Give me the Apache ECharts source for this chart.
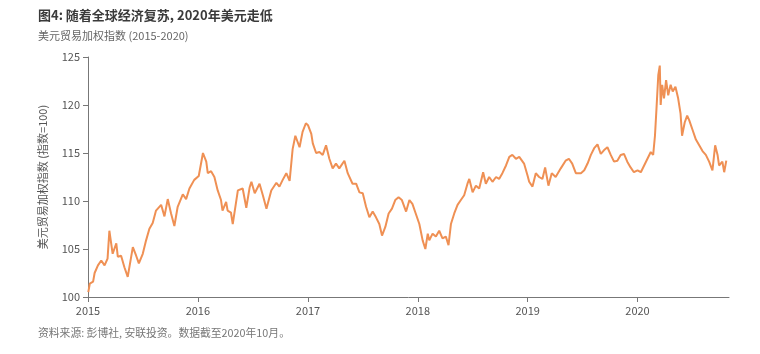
<!DOCTYPE html>
<html>
<head>
<meta charset="utf-8">
<script src="https://cdn.jsdelivr.net/npm/echarts@6/dist/echarts.min.js"></script>
<style>
  html, body { margin: 0; padding: 0; background: #fff; }
  #miGrafica { width: 760px; height: 354px; }
</style>
</head>
<body>
<div id="miGrafica"></div>
<script>
// 美元贸易加权指数, 读图估算

var fechas = [
    '2015-01-02','2015-01-07','2015-01-18','2015-01-23','2015-02-03','2015-02-14','2015-02-25','2015-03-07','2015-03-13','2015-03-24',
    '2015-04-05','2015-04-10','2015-04-21','2015-05-02','2015-05-13','2015-05-30','2015-06-10','2015-06-19','2015-07-02','2015-07-13',
    '2015-07-24','2015-08-04','2015-08-15','2015-09-01','2015-09-12','2015-09-23','2015-10-04','2015-10-15','2015-10-26','2015-11-12',
    '2015-11-23','2015-12-04','2015-12-20','2016-01-04','2016-01-18','2016-01-29','2016-02-03','2016-02-14','2016-02-25','2016-03-07',
    '2016-03-18','2016-03-23','2016-04-04','2016-04-09','2016-04-20','2016-04-26','2016-05-13','2016-05-29','2016-06-10','2016-06-21',
    '2016-06-27','2016-07-08','2016-07-24','2016-08-04','2016-08-16','2016-09-01','2016-09-18','2016-09-28','2016-10-09','2016-10-21',
    '2016-11-01','2016-11-11','2016-11-20','2016-12-04','2016-12-14','2016-12-25','2017-01-01','2017-01-12','2017-01-17','2017-01-28',
    '2017-02-08','2017-02-19','2017-03-02','2017-03-13','2017-03-24','2017-04-04','2017-04-15','2017-05-02','2017-05-13','2017-05-29',
    '2017-06-10','2017-06-21','2017-07-02','2017-07-13','2017-07-24','2017-08-04','2017-08-15','2017-08-26','2017-09-04','2017-09-15',
    '2017-09-26','2017-10-07','2017-10-18','2017-10-29','2017-11-09','2017-11-23','2017-12-04','2017-12-14','2017-12-25','2018-01-06',
    '2018-01-17','2018-01-26','2018-02-03','2018-02-08','2018-02-19','2018-03-02','2018-03-13','2018-03-24','2018-04-04','2018-04-13',
    '2018-04-21','2018-05-02','2018-05-13','2018-05-24','2018-06-04','2018-06-15','2018-06-21','2018-07-02','2018-07-13','2018-07-24',
    '2018-08-06','2018-08-15','2018-08-26','2018-09-06','2018-09-18','2018-09-28','2018-10-09','2018-10-21','2018-11-01','2018-11-11',
    '2018-11-23','2018-12-04','2018-12-20','2019-01-01','2019-01-06','2019-01-17','2019-01-28','2019-02-08','2019-02-19','2019-02-28',
    '2019-03-11','2019-03-22','2019-04-04','2019-04-21','2019-05-07','2019-05-18','2019-05-29','2019-06-10','2019-06-27','2019-07-08',
    '2019-07-19','2019-07-30','2019-08-10','2019-08-21','2019-09-01','2019-09-12','2019-09-23','2019-10-04','2019-10-15','2019-10-26',
    '2019-11-06','2019-11-17','2019-11-28','2019-12-09','2019-12-20','2020-01-01','2020-01-12','2020-01-23','2020-02-03','2020-02-14',
    '2020-02-22','2020-02-28','2020-03-04','2020-03-10','2020-03-15','2020-03-18','2020-03-23','2020-03-29','2020-04-05','2020-04-12',
    '2020-04-20','2020-04-27','2020-05-06','2020-05-15','2020-05-23','2020-05-28','2020-06-06','2020-06-14','2020-06-21','2020-07-02',
    '2020-07-13','2020-07-24','2020-08-04','2020-08-15','2020-08-26','2020-09-06','2020-09-15','2020-09-23','2020-09-28','2020-10-09',
    '2020-10-15','2020-10-22'
];

var indice = [
    100.5,101.4,101.6,102.5,103.3,103.8,103.3,104.0,106.9,104.5,
    105.6,104.2,104.3,103.1,102.1,105.2,104.3,103.5,104.5,105.9,
    107.1,107.7,109.0,109.6,108.4,110.2,108.7,107.4,109.4,110.7,
    110.2,111.3,112.2,112.6,115.0,114.1,112.9,113.1,112.5,111.1,
    110.1,109.0,109.9,109.0,108.8,107.6,111.1,111.3,109.3,111.4,
    112.0,110.8,111.8,110.6,109.2,111.1,111.9,111.5,112.2,112.9,
    112.1,115.4,116.8,115.6,117.2,118.1,117.9,117.0,116.0,115.0,
    115.1,114.8,115.8,114.4,113.4,113.9,113.4,114.2,112.9,111.8,
    111.8,110.9,110.8,109.4,108.3,108.9,108.3,107.6,106.4,107.3,
    108.7,109.2,110.1,110.4,110.1,108.9,110.1,109.7,108.7,107.6,
    105.9,105.0,106.6,105.9,106.6,106.3,106.9,106.1,106.3,105.4,
    107.6,108.7,109.6,110.1,110.6,111.8,112.3,110.9,111.6,111.3,
    113.0,111.8,112.5,112.0,112.5,112.3,112.9,113.7,114.6,114.8,
    114.4,114.6,113.9,112.6,112.0,111.5,112.9,112.5,112.3,113.5,
    111.6,112.9,112.5,113.4,114.2,114.4,113.9,112.9,112.9,113.2,
    113.9,114.8,115.5,115.9,114.9,115.3,115.6,114.8,114.1,114.2,
    114.8,114.9,114.1,113.5,113.0,113.2,113.0,113.7,114.4,115.1,
    114.8,116.8,119.6,123.1,124.1,120.0,122.1,120.7,122.6,121.0,
    122.1,121.4,121.9,120.7,119.1,116.8,118.2,118.9,118.4,117.4,
    116.4,115.8,115.2,114.8,114.1,113.2,115.8,114.8,113.7,114.1,
    113.0,114.2
];

var titulo = '图4: 随着全球经济复苏, 2020年美元走低';
var subtitulo = '美元贸易加权指数 (2015-2020)';
var nombreEjeY = '美元贸易加权指数 (指数=100)';
var fuente = '资料来源: 彭博社, 安联投资。数据截至2020年10月。';

var datos = fechas.map(function (f, i) { return [f, indice[i]]; });

var dom = document.getElementById('miGrafica');
var myChart = echarts.init(dom, null, { renderer: 'canvas' });

var fuenteTexto = "'Noto Sans CJK SC', 'Noto Sans', sans-serif";

var option = {
    backgroundColor: '#fff',
    animation: false,
    textStyle: { fontFamily: fuenteTexto },
    title: [
        {
            text: titulo,
            left: 38, top: 9, padding: 0,
            textStyle: { fontSize: 13, fontWeight: 'bold', color: '#3a3a3a', fontFamily: fuenteTexto }
        },
        {
            text: subtitulo,
            left: 38, top: 30, padding: 0,
            textStyle: { fontSize: 11, fontWeight: 'normal', color: '#666', fontFamily: fuenteTexto }
        },
        {
            text: fuente,
            left: 38, top: 328, padding: 0,
            textStyle: { fontSize: 10.8, fontWeight: 'normal', color: '#777', fontFamily: fuenteTexto }
        }
    ],
    grid: {
        left: 88,
        right: 31,
        top: 57,
        bottom: 57,
        containLabel: false
    },
    xAxis: {
        type: 'time',
        min: '2015-01-01',
        max: '2020-10-31',
        minInterval: 365 * 86400000,
        maxInterval: 366 * 86400000,
        axisLine: { show: true, lineStyle: { color: '#777', width: 1 } },
        axisTick: { show: true, length: 5, lineStyle: { color: '#777' } },
        splitLine: { show: false },
        axisLabel: {
            formatter: '{yyyy}',
            color: '#555',
            fontSize: 11,
            margin: 8,
            showMinLabel: true
        }
    },
    yAxis: {
        type: 'value',
        min: 100,
        max: 125,
        interval: 5,
        name: nombreEjeY,
        nameLocation: 'middle',
        nameGap: 40,
        nameRotate: 90,
        nameTextStyle: { color: '#555', fontSize: 11 },
        axisLine: { show: true, lineStyle: { color: '#777', width: 1 } },
        axisTick: { show: true, length: 5, lineStyle: { color: '#777' } },
        splitLine: { show: false },
        axisLabel: { color: '#555', fontSize: 11, margin: 8 }
    },
    series: [
        {
            type: 'line',
            data: datos,
            showSymbol: false,
            smooth: false,
            lineStyle: { color: '#EF9054', width: 2 },
            itemStyle: { color: '#EF9054' }
        }
    ]
};

if (option && typeof option === 'object') {
    myChart.setOption(option);
}

window.addEventListener('resize', myChart.resize);
</script>
</body>
</html>
